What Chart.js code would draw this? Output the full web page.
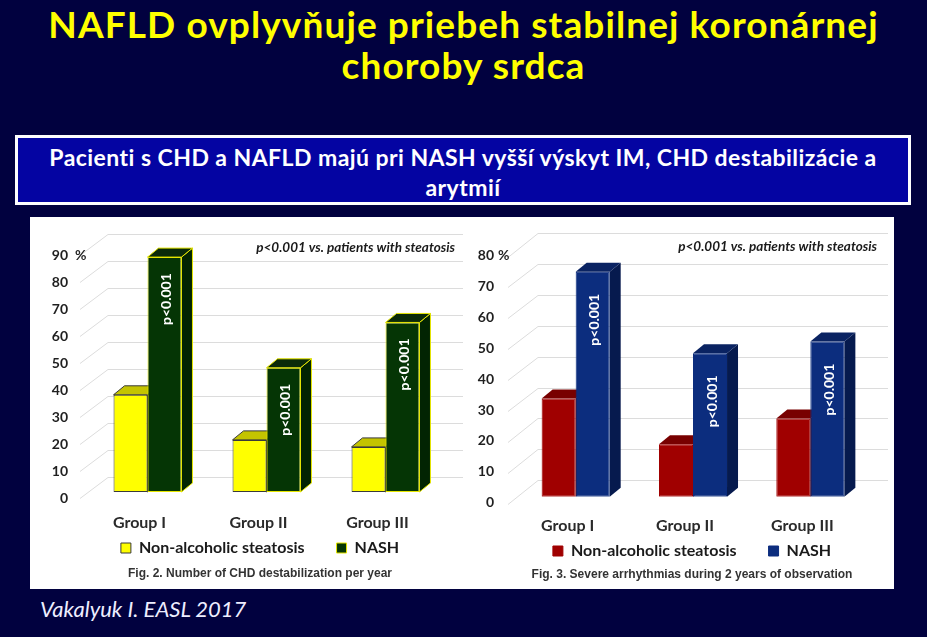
<!DOCTYPE html>
<html>
<head>
<meta charset="utf-8">
<script src="https://cdn.jsdelivr.net/npm/chart.js@4.4.1/dist/chart.umd.min.js"></script>
<style>
html,body{margin:0;padding:0;}
body{width:927px;height:637px;background:#01013f;position:relative;overflow:hidden;font-family:Lato,'Open Sans',sans-serif;}
#title{position:absolute;left:0;top:3px;width:927px;text-align:center;color:#ffff00;font-weight:bold;font-size:37px;letter-spacing:1.1px;line-height:41px;margin:0;}
#box{position:absolute;left:15px;top:135px;width:890px;height:64px;border:3px solid #fff;background:#0404a2;color:#fff;font-weight:bold;font-size:23px;letter-spacing:0.45px;line-height:30px;text-align:center;box-sizing:content-box;}
#box div{padding-top:4px;}
#panel{position:absolute;left:30px;top:217px;width:864px;height:372px;background:#fff;}
#c1{position:absolute;left:30px;top:217px;}
#c2{position:absolute;left:470px;top:217px;}
#foot{position:absolute;left:40px;top:596px;color:#eeeeff;font-style:italic;font-size:22px;line-height:26px;}
</style>
</head>
<body>
<div id="title">NAFLD ovplyvňuje priebeh stabilnej koronárnej<br>choroby srdca</div>
<div id="box"><div>Pacienti s CHD a NAFLD majú pri NASH vyšší výskyt IM, CHD destabilizácie a<br>arytmií</div></div>
<div id="panel"></div>
<canvas id="c1" width="440" height="372"></canvas>
<canvas id="c2" width="424" height="372"></canvas>
<div id="foot">Vakalyuk I. EASL 2017</div>
<script>
// ---- data ----
const categories = ['Group I', 'Group II', 'Group III'];
const seriesLabels = ['Non-alcoholic steatosis', 'NASH'];
const chdSteatosis = [36, 19.3, 16.7];
const chdNash = [87, 46, 62.8];
const arrSteatosis = [31.8, 17, 25.3];
const arrNash = [72.8, 46.4, 50.2];
const chdMax = 90;
const arrMax = 80;
const tickStep = 10;
const pText = 'p<0.001';
const noteText = 'p<0.001 vs. patients with steatosis';
const unitText = '%';
const chdCaption = 'Fig. 2. Number of CHD destabilization per year';
const arrCaption = 'Fig. 3. Severe arrhythmias during 2 years of observation';

Chart.defaults.font.family = 'Lato';

const threeD = {
  id: 'threeD',
  afterLayout(chart) {
    // let tick labels draw outside the narrow axis boxes (no clipping)
    chart.scales.y.left = 0;
    chart.scales.x.bottom = chart.height;
  },
  beforeDatasetsDraw(chart, args, g) {
    const {ctx, chartArea: a, scales: {y}} = chart;
    ctx.save();
    ctx.strokeStyle = '#dcdcdc';
    ctx.lineWidth = 1;
    y.ticks.forEach(t => {
      const fy = y.getPixelForValue(t.value);
      ctx.beginPath();
      ctx.moveTo(a.left + g.gx0, Math.round(fy + g.gy0) + 0.5);
      ctx.lineTo(a.left + g.gx1, Math.round(fy + g.gy1) + 0.5);
      ctx.lineTo(a.right + g.gx2, Math.round(fy + g.gy1) + 0.5);
      ctx.stroke();
    });
    chart.data.datasets.forEach((ds, i) => {
      const st = g.faces[i];
      chart.getDatasetMeta(i).data.forEach(bar => {
        const l = bar.x - bar.width / 2, r = bar.x + bar.width / 2, t = bar.y, b = bar.base;
        const dx = g.dx, dy = g.dy;
        ctx.lineWidth = 1;
        ctx.strokeStyle = st.edge;
        ctx.fillStyle = st.side;
        ctx.beginPath();
        ctx.moveTo(r, t); ctx.lineTo(r + dx, t + dy); ctx.lineTo(r + dx, b + dy); ctx.lineTo(r, b); ctx.closePath();
        ctx.fill(); if (st.edge) ctx.stroke();
        ctx.fillStyle = st.top;
        ctx.beginPath();
        ctx.moveTo(l, t); ctx.lineTo(r, t); ctx.lineTo(r + dx, t + dy); ctx.lineTo(l + dx, t + dy); ctx.closePath();
        ctx.fill(); if (st.edge) ctx.stroke();
      });
    });
    ctx.restore();
  },
  afterDatasetsDraw(chart, args, g) {
    const {ctx, chartArea: a, scales: {y}} = chart;
    ctx.save();
    ctx.fillStyle = '#ffffff';
    ctx.font = 'bold 14px Lato';
    ctx.textAlign = 'center';
    ctx.textBaseline = 'middle';
    chart.getDatasetMeta(1).data.forEach(bar => {
      ctx.save();
      ctx.translate(bar.x + 2, bar.y + g.pOff);
      ctx.rotate(-Math.PI / 2);
      ctx.fillText(pText, 0, 0);
      ctx.restore();
    });
    ctx.fillStyle = '#1a1a1a';
    ctx.font = 'italic bold 13.5px Lato';
    ctx.textAlign = 'right';
    ctx.fillText(noteText, a.right + g.noteX, y.getPixelForValue(y.max) + g.noteY);
    ctx.font = 'bold 14px Lato';
    ctx.textAlign = 'left';
    ctx.fillStyle = '#262626';
    ctx.fillText(unitText, a.left + g.unitX, y.getPixelForValue(y.max) + 6);
    ctx.restore();
  }
};

function build(id, cfg) {
  return new Chart(document.getElementById(id), {
    type: 'bar',
    data: {
      labels: categories,
      datasets: [
        {label: seriesLabels[0], data: cfg.s1, backgroundColor: cfg.front[0], borderColor: cfg.border[0], borderWidth: 1, borderSkipped: false},
        {label: seriesLabels[1], data: cfg.s2, backgroundColor: cfg.front[1], borderColor: cfg.border[1], borderWidth: 1, borderSkipped: false}
      ]
    },
    options: {
      responsive: false,
      animation: false,
      devicePixelRatio: 1,
      layout: {padding: {left: cfg.padL, right: cfg.padR, top: cfg.padT, bottom: 0}},
      datasets: {bar: {categoryPercentage: cfg.cp, barPercentage: 1}},
      scales: {
        x: {
          grid: {display: false, drawTicks: false},
          border: {display: false},
          ticks: {font: {size: 16, weight: 'bold'}, color: '#2a2a2a', padding: cfg.xPad, labelOffset: -8},
          afterFit: s => { s.height = cfg.xh; }
        },
        y: {
          min: 0, max: cfg.max,
          grid: {display: false, drawTicks: false},
          border: {display: false},
          ticks: {stepSize: tickStep, font: {size: 14, weight: 'bold'}, color: '#1f1f1f', padding: cfg.yPad, labelOffset: 6},
          afterFit: s => { s.width = cfg.yw; }
        }
      },
      plugins: {
        legend: {
          position: 'bottom',
          labels: {boxWidth: 10, boxHeight: 10, padding: 32, font: {size: 16, weight: 'bold'}, color: '#1a1a1a'}
        },
        title: {
          display: true, position: 'bottom', text: cfg.caption,
          font: {family: 'Liberation Sans', size: 12, weight: 'bold', lineHeight: 1},
          color: '#333333',
          padding: {top: cfg.tpt, bottom: cfg.tpb}
        },
        tooltip: {enabled: false},
        threeD: cfg.g
      }
    },
    plugins: [threeD]
  });
}

build('c1', {
  s1: chdSteatosis, s2: chdNash, max: chdMax, caption: chdCaption,
  front: ['#ffff00', '#053505'], border: ['#3a3a3a', '#e6e600'],
  padL: 45, padR: 25, padT: 32, yw: 13, yPad: 20, xh: 16, xPad: 21, cp: 0.571,
  tpt: 2, tpb: 9,
  g: {gx0: -8, gy0: 6, gx1: 20, gy1: -15, gx2: 18, dx: 11, dy: -9, pOff: 42, noteX: 10, noteY: -1, unitX: -13,
      faces: [{top: '#c4c400', side: '#b0b000', edge: '#3a3a3a'}, {top: '#0a2a0a', side: '#022402', edge: '#e6e600'}]}
});

build('c2', {
  s1: arrSteatosis, s2: arrNash, max: arrMax, caption: arrCaption,
  front: ['#a00000', '#0c2d7e'], border: ['#a00000', '#0c2d7e'],
  padL: 45, padR: 25, padT: 32.5, yw: 2, yPad: 23, xh: 14.3, xPad: 20, cp: 0.58,
  tpt: 0, tpb: 8,
  g: {gx0: -9, gy0: 7, gx1: 21, gy1: -16.5, gx2: 19, dx: 11, dy: -9, pOff: 48, noteX: 8, noteY: -3, unitX: -19,
      faces: [{top: '#780000', side: '#650000', edge: null}, {top: '#0a2362', side: '#061a4e', edge: null}]}
});
</script>
</body>
</html>
